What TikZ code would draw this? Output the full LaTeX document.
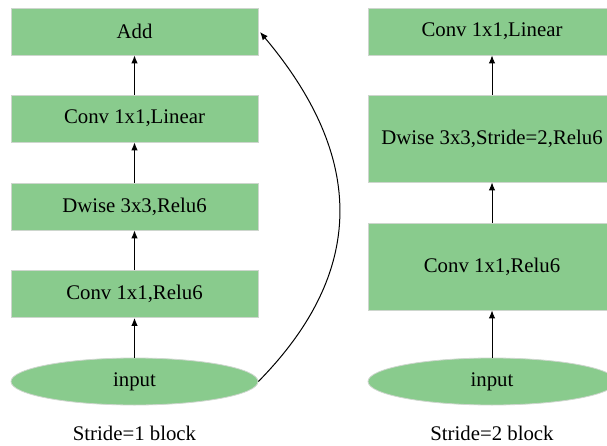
\documentclass[tikz,border=0pt]{standalone}
\usepackage{fontspec}
\setmainfont{Liberation Serif}
\usetikzlibrary{arrows.meta,shapes.geometric}
\definecolor{blockgreen}{RGB}{137,203,141}
\definecolor{blockedge}{RGB}{205,214,205}
\tikzset{
  layer/.style={rectangle, fill=blockgreen, draw=blockedge, line width=0.8pt,
    minimum width=#1, minimum height=47pt, inner sep=0pt,
    font=\fontsize{20.8}{24}\selectfont},
  layer/.default=247pt,
  tall/.style={minimum height=87pt},
  inblob/.style={ellipse, fill=blockgreen, draw=blockedge, line width=0.8pt,
    minimum width=#1, minimum height=47pt, inner sep=0pt,
    font=\fontsize{20.8}{24}\selectfont},
  inblob/.default=247pt,
  caption/.style={font=\fontsize{20.8}{24}\selectfont},
  flow/.style={-{Latex[length=8pt,width=6.5pt]}, line width=1pt, black},
}
\begin{document}
\begin{tikzpicture}[x=1pt,y=-1pt]
\clip (0,0) rectangle (607,446);
\fill[white] (0,0) rectangle (607,446);

% stride 1 block
\node[layer] (add) at (134.5,31.5) {Add};
\node[layer] (lin1) at (134.5,118.5) {Conv 1x1,Linear};
\node[layer] (dw1) at (134.5,206.5) {Dwise 3x3,Relu6};
\node[layer] (exp1) at (134.5,294) {Conv 1x1,Relu6};
\node[inblob] (in1) at (134.5,381.5) {input};
\node[caption] (cap1) at (134.5,433) {Stride=1 block};

\draw[flow] (in1) -- (exp1);
\draw[flow] (exp1) -- (dw1);
\draw[flow] (dw1) -- (lin1);
\draw[flow] (lin1) -- (add);
\coordinate (addin) at (260,32);
\draw[flow] (in1.east) .. controls (366,272) and (366,158) .. (addin);

% stride 2 block
\node[layer=248pt] (lin2) at (492,31.5) {Conv 1x1,Linear};
\node[layer=248pt, tall] (dw2) at (492,138.5) {Dwise 3x3,Stride=2,Relu6};
\node[layer=248pt, tall] (exp2) at (492,266.5) {Conv 1x1,Relu6};
\node[inblob=248pt] (in2) at (492,381.5) {input};
\node[caption] (cap2) at (492,433) {Stride=2 block};

\draw[flow] (in2) -- (exp2);
\draw[flow] (exp2) -- (dw2);
\draw[flow] (dw2) -- (lin2);
\end{tikzpicture}
\end{document}
